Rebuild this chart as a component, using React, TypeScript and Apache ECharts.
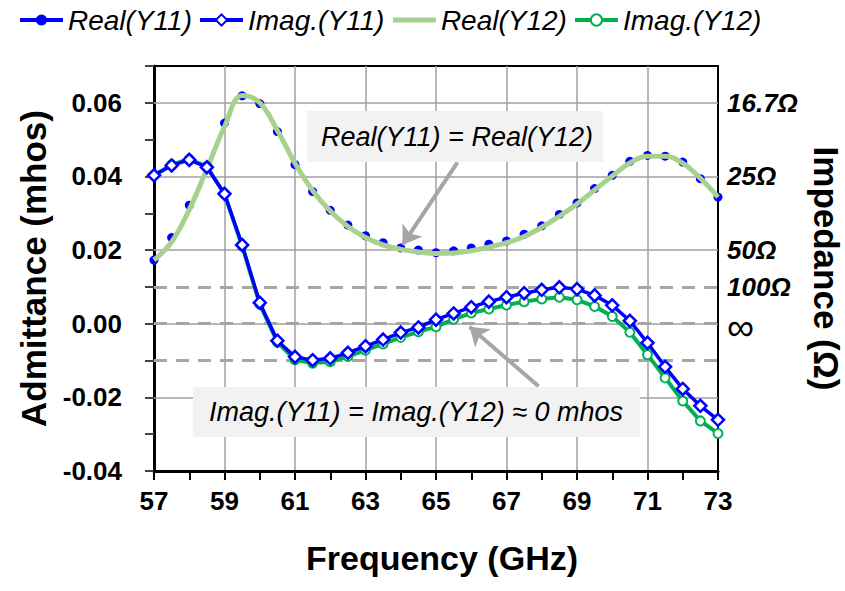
import React, { useEffect, useRef } from "react";
import * as echarts from "echarts";

const FONT = "'Liberation Sans', Arial, Helvetica, sans-serif";

const frequencies = [
  57, 57.5, 58, 58.5, 59, 59.5, 60, 60.5, 61, 61.5, 62, 62.5, 63, 63.5, 64, 64.5,
  65, 65.5, 66, 66.5, 67, 67.5, 68, 68.5, 69, 69.5, 70, 70.5, 71, 71.5, 72, 72.5, 73,
];

const realY11 = [
  0.0173, 0.0234, 0.0322, 0.0425, 0.0545, 0.0619, 0.0598, 0.0522, 0.0432, 0.0359,
  0.0308, 0.0268, 0.0239, 0.022, 0.0206, 0.02, 0.0193, 0.0198, 0.0206, 0.0216,
  0.0225, 0.0243, 0.0266, 0.0297, 0.0328, 0.0367, 0.0403, 0.0441, 0.0457, 0.0455,
  0.0439, 0.0394, 0.0344,
];

const imagY11 = [
  0.0403, 0.043, 0.0445, 0.0425, 0.0353, 0.0214, 0.0057, -0.0046, -0.009, -0.0099,
  -0.0094, -0.0079, -0.0061, -0.0043, -0.0024, -0.001, 0.0011, 0.0028, 0.0045, 0.006,
  0.0072, 0.0083, 0.0092, 0.0099, 0.0094, 0.0077, 0.005, 0.0008, -0.0052, -0.0117,
  -0.0177, -0.0223, -0.0261,
];

const realY12 = [
  0.0173, 0.0222, 0.031, 0.042, 0.0535, 0.062, 0.06, 0.0525, 0.0436, 0.0362,
  0.0306, 0.0264, 0.0234, 0.0214, 0.0202, 0.0195, 0.0191, 0.0192, 0.0198, 0.0208,
  0.022, 0.0237, 0.0262, 0.0292, 0.0325, 0.0363, 0.0401, 0.0437, 0.0455, 0.0455,
  0.0436, 0.0395, 0.0344,
];

const imagY12 = [
  0.0403, 0.0432, 0.0447, 0.0427, 0.0352, 0.0211, 0.0053, -0.005, -0.0098, -0.0107,
  -0.0103, -0.0089, -0.0072, -0.0055, -0.0037, -0.0022, -0.0008, 0.0012, 0.0029, 0.004,
  0.0051, 0.006, 0.0067, 0.0072, 0.0065, 0.0047, 0.002, -0.0023, -0.0084, -0.0147,
  -0.021, -0.0264, -0.0298,
];

const seriesNames = ["Real(Y11)", "Imag.(Y11)", "Real(Y12)", "Imag.(Y12)"];

const impedanceTickValues = [0.06, 0.04, 0.02, 0.01, 0];
const impedanceTickLabels = ["16.7Ω", "25Ω", "50Ω", "100Ω", "∞"];

const solidGridValues = [-0.02, 0, 0.02, 0.04, 0.06];
const dashedGridValues = [-0.01, 0, 0.01];

const annotationRealText = "Real(Y11) = Real(Y12)";
const annotationImagText = "Imag.(Y11) = Imag.(Y12) ≈ 0 mhos";
// arrow endpoints in data coordinates [frequency, admittance]
const arrowReal = [[65.61, 0.0438], [64.05, 0.0214]];
const arrowImag = [[67.91, -0.017], [65.95, -0.0008]];

const pairs = (ys: number[]) => frequencies.map((f, i) => [f, ys[i]]);

export default function App() {
  const ref = useRef<HTMLDivElement>(null);

  useEffect(() => {
    if (!ref.current) return;
    const chart = echarts.init(ref.current, null, { renderer: "svg" });

    const BLUE = "#0000ff";
    const LIGHTGREEN = "#a9d18e";
    const GREEN = "#00b050";
    const GRID = "#a0a0a0";
    const DASH = "#a6a6a6";

    const option: any = {
      animation: false,
      backgroundColor: "#ffffff",
      legend: {
        data: [
          { name: seriesNames[0], lineStyle: { width: 4, color: BLUE, opacity: 1 } },
          { name: seriesNames[1], lineStyle: { width: 4, color: BLUE, opacity: 1 } },
          {
            name: seriesNames[2],
            lineStyle: { width: 5, color: LIGHTGREEN, opacity: 1 },
            itemStyle: { opacity: 0 },
          },
          { name: seriesNames[3], lineStyle: { width: 4, color: GREEN, opacity: 1 } },
        ],
        left: 18,
        top: 6,
        padding: 0,
        itemWidth: 43,
        itemHeight: 14,
        itemGap: 6,
        textStyle: {
          fontSize: 28,
          fontStyle: "italic",
          fontFamily: FONT,
          color: "#000",
        },
      },
      grid: {
        left: 154,
        right: 127,
        top: 66,
        bottom: 120,
        show: true,
        borderColor: "#000",
        borderWidth: 2,
        backgroundColor: "transparent",
        containLabel: false,
        outerBoundsMode: "none",
      },
      xAxis: {
        type: "value",
        min: 57,
        max: 73,
        interval: 2,
        name: "Frequency (GHz)",
        nameLocation: "middle",
        nameGap: 70,
        nameTextStyle: {
          fontSize: 34,
          fontWeight: "bold",
          fontFamily: FONT,
          color: "#000",
          padding: [0, 0, 0, 12],
        },
        axisLine: { show: true, onZero: false, lineStyle: { color: "#000", width: 3 } },
        axisTick: { show: true, inside: false, length: 9, lineStyle: { color: "#000", width: 2 } },
        minorTick: { show: true, splitNumber: 2, length: 9, lineStyle: { color: "#000", width: 2 } },
        axisLabel: {
          fontSize: 26,
          fontWeight: "bold",
          fontFamily: FONT,
          color: "#000",
          margin: 17,
        },
        splitLine: { show: true, lineStyle: { color: GRID, width: 1.5 } },
        minorSplitLine: { show: false },
      },
      yAxis: [
        {
          type: "value",
          min: -0.04,
          max: 0.07,
          interval: 0.01,
          name: "Admittance (mhos)",
          nameLocation: "middle",
          nameRotate: 90,
          nameGap: 103,
          nameTextStyle: {
            fontSize: 35,
            fontWeight: "bold",
            fontFamily: FONT,
            color: "#000",
          },
          axisLine: { show: true, onZero: false, lineStyle: { color: "#000", width: 3 } },
          axisTick: { show: true, inside: false, length: 9, lineStyle: { color: "#444", width: 2 } },
          axisLabel: {
            fontSize: 26,
            fontWeight: "bold",
            fontFamily: FONT,
            color: "#000",
            margin: 32,
            formatter: (v: number) => {
              const k = Math.round(v * 100);
              if (k % 2 !== 0 || k > 6) return "";
              return (k / 100).toFixed(2);
            },
          },
          splitLine: { show: false },
        },
        {
          type: "value",
          position: "right",
          min: -0.04,
          max: 0.07,
          interval: 0.01,
          name: "Impedance (Ω)",
          nameLocation: "middle",
          nameRotate: -90,
          nameGap: 90,
          nameTextStyle: {
            fontSize: 35,
            fontWeight: "bold",
            fontFamily: FONT,
            color: "#000",
          },
          axisLine: { show: true, onZero: false, lineStyle: { color: "#000", width: 2 } },
          axisTick: { show: false },
          axisLabel: {
            margin: 9,
            formatter: (v: number) => {
              const i = impedanceTickValues.findIndex((t) => Math.abs(t - v) < 1e-6);
              if (i < 0) return "";
              const s = impedanceTickLabels[i];
              return s === "∞" ? "{inf|∞}" : "{z|" + s + "}";
            },
            rich: {
              z: {
                fontSize: 26,
                fontWeight: "bold",
                fontStyle: "italic",
                fontFamily: FONT,
                color: "#000",
              },
              inf: {
                fontSize: 38,
                fontWeight: "normal",
                fontStyle: "normal",
                fontFamily: FONT,
                color: "#000",
                padding: [6, 0, 0, 0],
              },
            },
          },
          splitLine: { show: false },
        },
      ],
      graphic: [
        {
          type: "rect",
          z: 100,
          shape: { x: 307, y: 111, width: 296, height: 51 },
          style: { fill: "#f2f2f2" },
          silent: true,
        },
        {
          type: "text",
          z: 101,
          x: 457,
          y: 137,
          silent: true,
          style: {
            text: annotationRealText,
            fontSize: 27,
            fontStyle: "italic",
            fontFamily: FONT,
            fill: "#000",
            align: "center",
            verticalAlign: "middle",
          },
        },
        {
          type: "rect",
          z: 100,
          shape: { x: 193, y: 387, width: 447, height: 50 },
          style: { fill: "#f2f2f2" },
          silent: true,
        },
        {
          type: "text",
          z: 101,
          x: 416,
          y: 412,
          silent: true,
          style: {
            text: annotationImagText,
            fontSize: 27,
            fontStyle: "italic",
            fontFamily: FONT,
            fill: "#000",
            align: "center",
            verticalAlign: "middle",
          },
        },
      ],
      series: [
        {
          name: seriesNames[0],
          type: "line",
          z: 2,
          data: pairs(realY11),
          symbol: "circle",
          symbolSize: 9,
          showSymbol: true,
          lineStyle: { color: BLUE, width: 1, opacity: 0 },
          itemStyle: { color: BLUE, borderColor: BLUE, borderWidth: 0 },
          emphasis: { disabled: true },
          markLine: {
            z: 1,
            silent: true,
            symbol: ["none", "none"],
            label: { show: false },
            emphasis: { disabled: true },
            data: [
              ...solidGridValues.map((v) => ({
                yAxis: v,
                lineStyle: { color: GRID, width: 1.5, type: "solid" },
              })),
              ...dashedGridValues.map((v) => ({
                yAxis: v,
                lineStyle: { color: DASH, width: 3, type: [13, 9] },
              })),
            ],
          },
        },
        {
          name: seriesNames[2],
          type: "line",
          z: 3,
          data: pairs(realY12),
          smooth: 0.4,
          showSymbol: false,
          symbol: "none",
          lineStyle: { color: LIGHTGREEN, width: 5 },
          itemStyle: { color: LIGHTGREEN },
          emphasis: { disabled: true },
          markLine: {
            z: 6,
            silent: true,
            symbol: ["none", "arrow"],
            symbolSize: 18,
            label: { show: false },
            emphasis: { disabled: true },
            lineStyle: { color: DASH, width: 4, type: "solid" },
            itemStyle: { color: DASH },
            data: [
              [{ coord: arrowReal[0] }, { coord: arrowReal[1] }],
              [{ coord: arrowImag[0] }, { coord: arrowImag[1] }],
            ],
          },
        },
        {
          name: seriesNames[3],
          type: "line",
          z: 4,
          data: pairs(imagY12),
          symbol: "circle",
          symbolSize: 9,
          showSymbol: true,
          lineStyle: { color: GREEN, width: 4 },
          itemStyle: { color: "#ffffff", borderColor: GREEN, borderWidth: 2 },
          emphasis: { disabled: true },
        },
        {
          name: seriesNames[1],
          type: "line",
          z: 5,
          data: pairs(imagY11),
          symbol: "diamond",
          symbolSize: 12,
          showSymbol: true,
          lineStyle: { color: BLUE, width: 3.5 },
          itemStyle: { color: "#ffffff", borderColor: BLUE, borderWidth: 2.5 },
          emphasis: { disabled: true },
        },
      ],
    };

    chart.setOption(option);
    return () => chart.dispose();
  }, []);

  return (
    <div
      ref={ref}
      style={{ position: "absolute", left: 0, top: 0, width: 845, height: 591 }}
    />
  );
}
